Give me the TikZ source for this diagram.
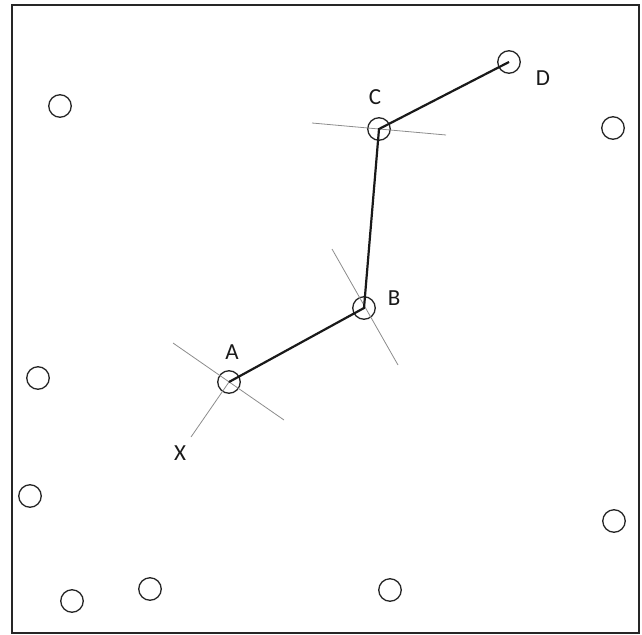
\documentclass[tikz,border=0pt]{standalone}
\usepackage{fontspec}
\setmainfont{Carlito}
\begin{document}
\begin{tikzpicture}[x=1pt,y=-1pt,
  pt/.style={circle,draw=black!85,line width=1.3pt,minimum size=22.5pt,inner sep=0pt},
  lbl/.style={font=\fontsize{23}{27}\selectfont,text=black!90,inner sep=0pt},
  path/.style={draw=black!90,line width=2.2pt},
  guide/.style={draw=black!45,line width=0.8pt}]
\useasboundingbox (0,0) rectangle (642,634);
\draw[draw=black!85,line width=2.4pt] (12,5) rectangle (639,633);
% lone points
\node[pt] (p1) at (60,106) {};
\node[pt] (p2) at (613,128) {};
\node[pt] (p3) at (38,378) {};
\node[pt] (p4) at (30,496) {};
\node[pt] (p5) at (614,521) {};
\node[pt] (p6) at (72,601) {};
\node[pt] (p7) at (150,589) {};
\node[pt] (p8) at (390,590) {};
% chain points
\node[pt] (A) at (229,382) {};
\node[pt] (B) at (364,308) {};
\node[pt] (C) at (379,129) {};
\node[pt] (D) at (509,62) {};
% guide line ends
\coordinate (a1) at (173,343);
\coordinate (a2) at (284,420);
\coordinate (x1) at (191,437);
\coordinate (b1) at (332,249);
\coordinate (b2) at (398,365);
\coordinate (c1) at (312,123);
\coordinate (c2) at (446,135);
\draw[guide] (a1) -- (a2);
\draw[guide] (x1) -- (A.center);
\draw[guide] (b1) -- (b2);
\draw[guide] (c1) -- (c2);
\draw[path] (A.center) -- (B.center) -- (C.center) -- (D.center);
% labels
\node[lbl] (lA) at (232,352) {A};
\node[lbl] (lB) at (394,298) {B};
\node[lbl] (lC) at (375,97) {C};
\node[lbl] (lD) at (543,78) {D};
\node[lbl] (lX) at (180,453) {X};
\end{tikzpicture}
\end{document}
